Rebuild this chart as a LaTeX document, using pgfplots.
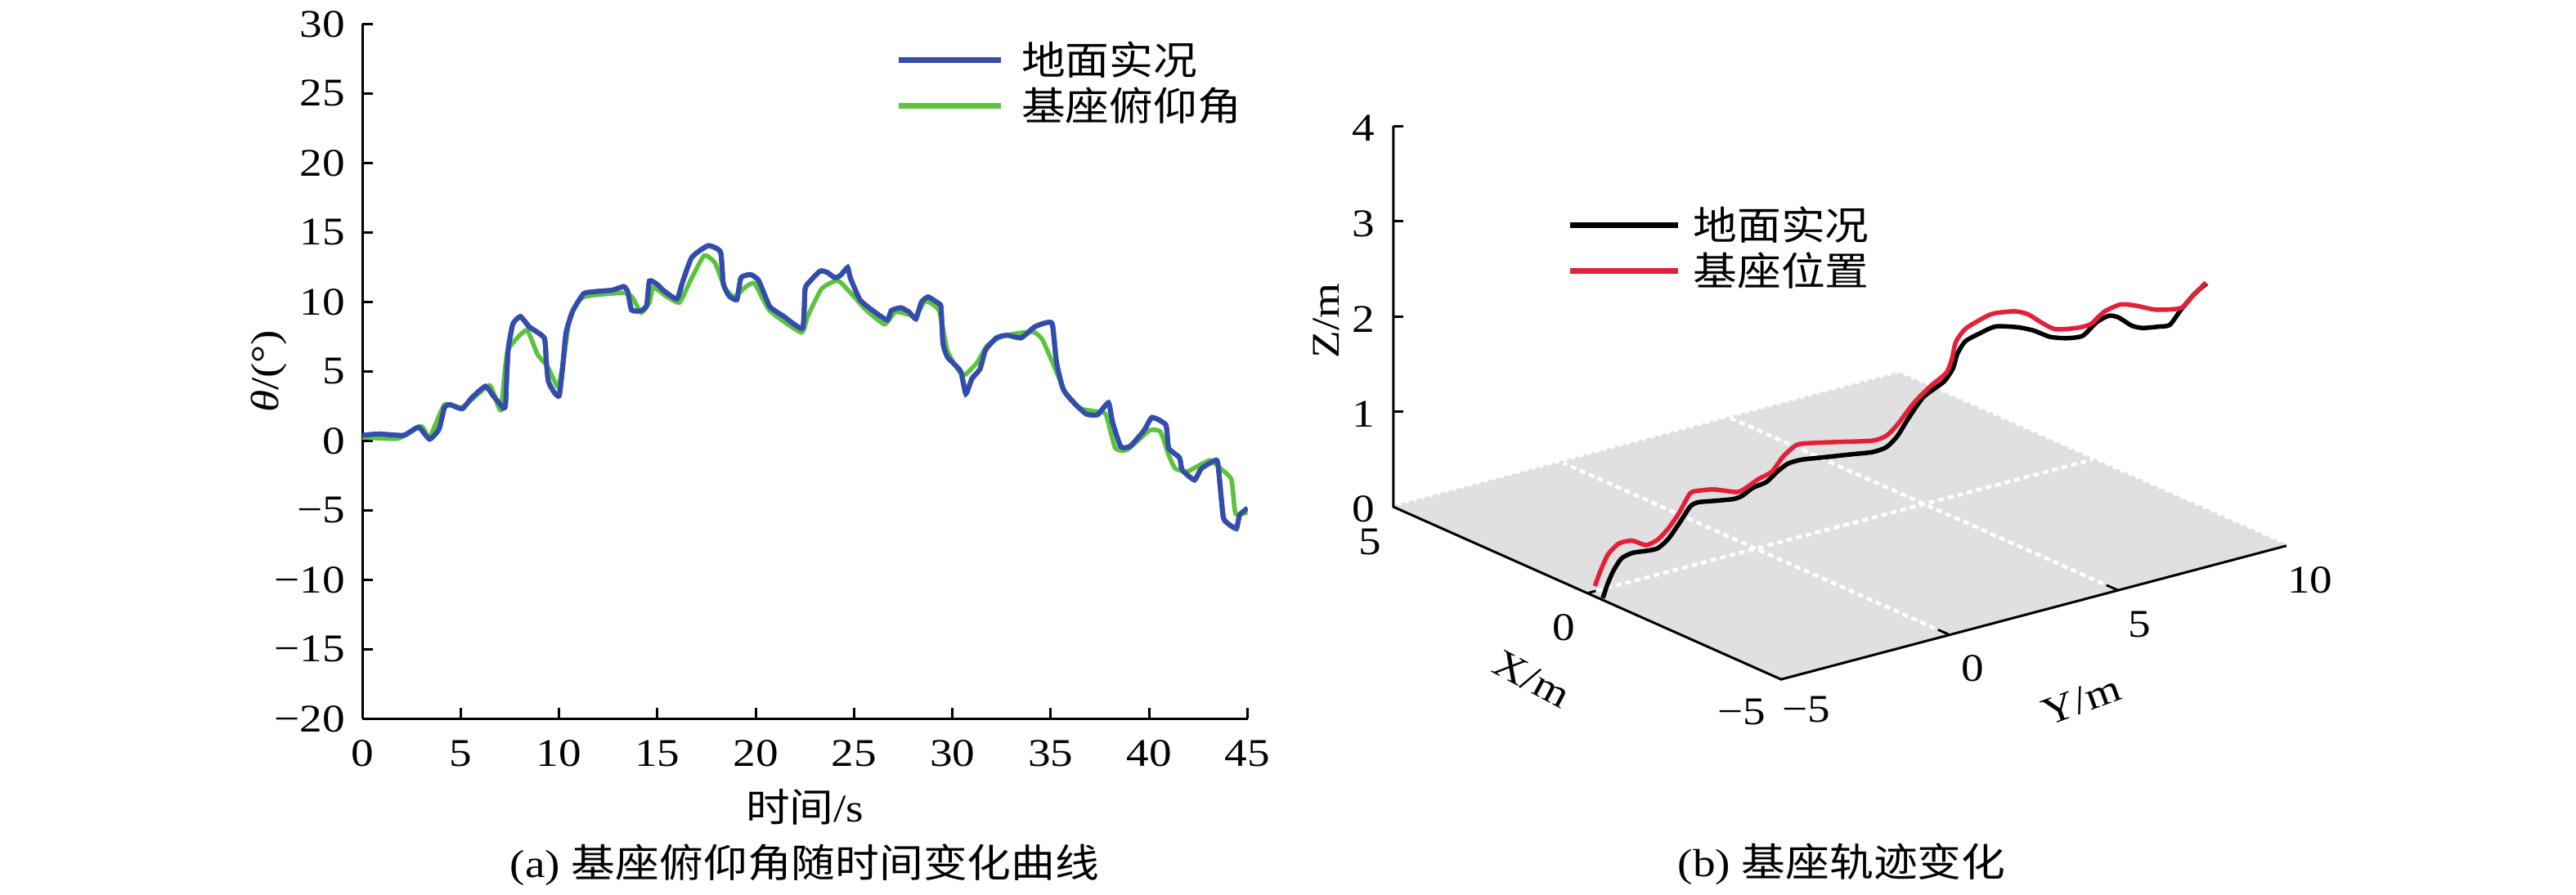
\documentclass[border=0pt]{standalone}
\usepackage{pgfplots}
\usepackage{pgfplotstable}
\pgfplotsset{compat=1.18}
\usepackage{fontspec}
\setmainfont{Liberation Serif}[FakeStretch=1.15]
\newfontfamily\cjk{Noto Sans CJK SC}[FakeStretch=1.12]
\newcommand\fs{\fontsize{9.6}{11.5}\selectfont}
\definecolor{cblue}{RGB}{52,76,172}
\definecolor{cgreen}{RGB}{92,196,60}
\definecolor{cred}{RGB}{228,32,56}
\definecolor{floorgray}{RGB}{224,224,224}

\pgfplotstableread{
t v
0.0 0.39
0.85 0.49
2.1 0.39
2.86 0.98
3.42 0.12
3.9 0.84
4.18 2.41
4.46 2.6
5.08 2.31
5.57 3.1
6.26 3.92
6.68 3.2
7.17 2.35
7.28 2.6
7.34 4.6
7.42 6.6
7.65 8.39
8.04 8.94
8.49 8.2
9.25 7.41
9.35 5.8
9.46 4.27
9.75 3.5
10.01 3.25
10.2 5.5
10.36 7.8
10.71 9.37
11.26 10.59
11.96 10.75
12.72 10.84
13.28 11.1
13.49 10.75
13.69 9.41
14.18 9.37
14.46 9.76
14.6 11.5
15.01 11.24
15.29 10.84
15.99 10.2
16.26 11.33
16.75 13.2
17.58 14.04
18.21 13.59
18.35 11.33
18.63 10.45
19.04 10.16
19.25 11.73
19.74 11.96
20.15 11.53
20.71 9.67
21.4 8.98
22.38 8.1
22.51 10.94
22.79 11.53
23.28 12.22
23.63 12.12
24.04 11.73
24.32 11.92
24.67 12.47
24.81 11.73
25.29 10.16
25.85 9.47
26.68 8.69
26.89 9.37
27.38 9.57
27.79 9.27
28.14 8.78
28.42 9.96
28.76 10.35
29.32 9.86
29.42 9.6
29.52 7.0
29.74 6.04
30.01 5.64
30.43 4.96
30.68 3.39
30.99 4.47
31.4 5.16
31.68 6.53
32.24 7.41
32.79 7.6
33.49 7.41
34.18 8.2
34.74 8.49
35.08 8.39
35.29 5.64
35.64 3.68
36.26 2.61
36.82 1.92
37.38 1.88
37.93 2.74
38.14 1.33
38.56 -0.43
39.04 -0.39
39.74 0.74
40.15 1.68
40.85 1.14
40.99 -0.53
41.54 -1.21
41.68 -2.1
42.3 -2.82
42.65 -2.0
43.29 -1.45
43.49 -1.6
43.76 -5.43
43.97 -5.92
44.43 -6.32
44.6 -5.33
45.0 -4.85
}\tblue

\pgfplotstableread{
t v
0.0 0.25
1.82 0.16
3.0 1.04
3.42 0.25
4.18 2.6
5.08 2.41
6.47 3.98
7.03 2.22
7.38 6.43
8.35 7.96
8.9 6.24
9.46 5.25
9.94 3.88
10.22 5.65
10.57 8.98
11.26 10.35
13.35 10.65
13.76 10.25
14.18 9.22
14.6 9.96
14.8 11.04
15.5 10.35
16.13 9.96
16.68 11.53
17.38 13.33
17.93 12.8
18.42 11.04
18.9 10.35
19.46 11.04
19.94 11.33
20.71 9.37
22.31 7.8
22.65 8.98
23.35 10.94
24.18 11.53
25.01 10.35
25.57 9.47
26.54 8.39
27.1 9.27
27.79 9.08
28.14 8.98
28.63 10.06
29.32 9.37
29.74 6.5
30.29 5.1
30.64 4.76
31.26 5.64
31.75 6.82
32.51 7.51
33.63 7.8
34.18 7.8
34.6 7.21
35.43 4.47
35.85 3.19
36.54 2.31
37.24 2.12
37.79 1.92
38.28 -0.53
38.9 -0.63
40.01 0.74
40.57 0.65
40.99 -1.02
41.33 -2.0
41.96 -2.2
43.07 -1.41
43.63 -2.0
44.18 -2.78
44.39 -5.24
45.0 -5.14
}\tgreen

\pgfplotstableread{
x y z
-0.40 -5.00 0.02
-0.42 -4.87 0.17
-0.45 -4.73 0.30
-0.48 -4.53 0.41
-0.53 -4.26 0.45
-0.59 -3.92 0.45
-0.64 -3.65 0.46
-0.68 -3.38 0.54
-0.73 -3.11 0.69
-0.78 -2.84 0.85
-0.81 -2.64 0.88
-0.88 -2.24 0.87
-0.96 -1.77 0.86
-1.00 -1.56 0.88
-1.05 -1.29 0.95
-1.11 -0.96 0.99
-1.15 -0.69 1.08
-1.20 -0.42 1.15
-1.26 -0.08 1.17
-1.35 0.46 1.16
-1.47 1.13 1.15
-1.56 1.67 1.14
-1.62 2.01 1.17
-1.67 2.28 1.27
-1.72 2.55 1.44
-1.78 2.93 1.64
-1.87 3.43 1.77
-1.91 3.66 1.90
-1.93 3.76 2.04
-1.96 3.96 2.16
-2.02 4.30 2.22
-2.09 4.71 2.27
-2.19 5.25 2.23
-2.26 5.65 2.17
-2.33 6.05 2.08
-2.40 6.46 2.04
-2.47 6.86 2.04
-2.53 7.20 2.16
-2.58 7.50 2.21
-2.62 7.74 2.18
-2.68 8.08 2.07
-2.73 8.35 2.03
-2.80 8.75 2.02
-2.84 9.02 2.02
-2.89 9.29 2.16
-2.95 9.63 2.31
-3.00 9.93 2.40
}\tblack

\pgfplotstableread{
x y z
-0.37 -5.20 0.16
-0.39 -5.07 0.30
-0.42 -4.87 0.47
-0.47 -4.60 0.57
-0.52 -4.29 0.58
-0.55 -4.13 0.55
-0.59 -3.92 0.51
-0.64 -3.65 0.55
-0.68 -3.38 0.65
-0.73 -3.11 0.80
-0.78 -2.84 0.99
-0.82 -2.57 1.00
-0.88 -2.24 0.99
-0.98 -1.70 0.93
-1.01 -1.50 0.95
-1.07 -1.16 1.03
-1.13 -0.82 1.09
-1.18 -0.55 1.23
-1.23 -0.21 1.33
-1.29 0.12 1.33
-1.41 0.80 1.30
-1.56 1.67 1.26
-1.62 2.01 1.29
-1.67 2.28 1.39
-1.74 2.68 1.59
-1.81 3.09 1.74
-1.88 3.49 1.86
-1.90 3.63 1.99
-1.92 3.73 2.17
-1.96 3.96 2.29
-2.02 4.30 2.36
-2.08 4.64 2.41
-2.17 5.18 2.40
-2.23 5.51 2.35
-2.29 5.85 2.24
-2.35 6.19 2.15
-2.44 6.73 2.13
-2.50 7.07 2.15
-2.56 7.40 2.26
-2.63 7.81 2.31
-2.70 8.21 2.27
-2.78 8.68 2.20
-2.89 9.29 2.18
-2.94 9.56 2.28
-3.00 9.90 2.41
}\tred

\begin{document}
\fs
\begin{tikzpicture}
\path[use as bounding box] (0,0) rectangle (630pt,219pt);
% ---------------- left plot ----------------
\begin{axis}[
  at={(88.6pt,43.14pt)}, anchor=south west,
  scale only axis, width=216.5pt, height=170pt,
  xmin=0, xmax=45, ymin=-20, ymax=30,
  axis x line*=bottom, axis y line*=left,
  axis line style={line width=0.6pt, black},
  xtick={0,5,...,45}, ytick={-20,-15,...,30},
  xticklabels={0,5,10,15,20,25,30,35,40,45},
  yticklabels={−20,−15,−10,−5,0,5,10,15,20,25,30},
  tick align=inside, major tick length=2.6pt,
  tick style={line width=0.6pt, black},
  ticklabel style={font=\fs},
  xticklabel style={yshift=-1.9pt},
  yticklabel style={xshift=-0.8pt},
  xlabel={{\cjk 时间}/s}, ylabel={{\itshape θ}/(°)},
  label style={font=\fs},
  xlabel style={at={(axis description cs:0.5,-0.1276)}, anchor=center},
  ylabel style={at={(axis description cs:-0.1053,0.5)}, anchor=center},
  legend style={at={(rel axis cs:0.6014,1)}, anchor=north west, yshift=-3.94pt,
    draw=none, fill=none, inner sep=0pt, font=\fs, column sep=4.4pt,
    nodes={inner sep=0pt, text height=8.4pt, text depth=2.8pt},
    cells={anchor=base west}},
  legend image code/.code={\draw[#1, line width=1.4pt] (0pt,3.6pt) -- (25pt,3.6pt);},
]
\addplot[cblue, line width=1.2pt, smooth, tension=0.3] table[x=t,y=v]{\tblue};
\addlegendentry{\cjk 地面实况}
\addplot[cgreen, line width=1.1pt, smooth, tension=0.3] table[x=t,y=v]{\tgreen};
\addlegendentry{\cjk 基座俯仰角}
\addplot[cblue, line width=1.2pt, smooth, tension=0.3, forget plot] table[x=t,y=v]{\tblue};
\end{axis}
\node at (196.8pt,7.4pt) {(a) {\cjk 基座俯仰角随时间变化曲线}};
% ---------------- right 3D plot ----------------
\begin{axis}[
  at={(429.4pt,84.76pt)}, anchor=origin,
  x={(-9.48pt,4.22pt)}, y={(8.24pt,2.18pt)}, z={(0pt,23.3pt)},
  xmin=-5, xmax=5, ymin=-5, ymax=10, zmin=0, zmax=4,
  hide axis, clip=false,
  legend style={at={(axis cs:5,-5,3)}, anchor=north west, xshift=42.2pt, yshift=4.0pt,
    draw=none, fill=none, inner sep=0pt, font=\fs, column sep=3.1pt,
    nodes={inner sep=0pt, text height=8.4pt, text depth=2.8pt},
    cells={anchor=base west}},
  legend image code/.code={\draw[#1, line width=1.4pt] (0pt,3.6pt) -- (26.4pt,3.6pt);},
]
\addplot3[fill=floorgray, draw=none, forget plot] coordinates {(5,-5,0) (-5,-5,0) (-5,10,0) (5,10,0)};
\addplot3[white, line width=0.9pt, dash pattern=on 1.4pt off 1pt, forget plot] coordinates {(5,0,0) (-5,0,0)};
\addplot3[white, line width=0.9pt, dash pattern=on 1.4pt off 1pt, forget plot] coordinates {(5,5,0) (-5,5,0)};
\addplot3[white, line width=0.9pt, dash pattern=on 1.4pt off 1pt, forget plot] coordinates {(0,-5,0) (0,10,0)};
\addplot3[white!75!gray, line width=0.8pt, dash pattern=on 1pt off 1pt, forget plot] coordinates {(5,-5,0) (5,10,0) (-5,10,0)};
\addplot3[black, line width=0.6pt, forget plot] coordinates {(5,-5,4) (5,-5,0) (-5,-5,0) (-5,10,0)};
\pgfplotsinvokeforeach{1,2,3,4}{\draw[black, line width=0.6pt] (axis cs:5,-5,#1) -- ++(2.4pt,0pt);}
\draw[black, line width=0.6pt] (axis cs:0,-5,0) -- (axis cs:0,-4.75,0);
\draw[black, line width=0.6pt] (axis cs:-5,0,0) -- (axis cs:-4.7,0,0);
\draw[black, line width=0.6pt] (axis cs:-5,5,0) -- (axis cs:-4.7,5,0);
\addplot3[black, line width=1.1pt, smooth, tension=0.4] table[x=x,y=y,z=z]{\tblack};
\addlegendentry{\cjk 地面实况}
\addplot3[cred, line width=1.1pt, smooth, tension=0.4] table[x=x,y=y,z=z]{\tred};
\addlegendentry{\cjk 基座位置}
% tick labels
\pgfplotsinvokeforeach{0,1,2,3,4}{\node[anchor=east, inner sep=0pt, xshift=-4.4pt, yshift=-0.6pt] at (axis cs:5,-5,#1) {#1};}
\node[anchor=east, inner sep=0pt, xshift=-2.8pt, yshift=-8.6pt] at (axis cs:5,-5,0) {5};
\node[anchor=east, inner sep=0pt, xshift=-2.8pt, yshift=-8.4pt] at (axis cs:0,-5,0) {0};
\node[anchor=east, inner sep=0pt, xshift=-3.6pt, yshift=-8.0pt] at (axis cs:-5,-5,0) {−5};
\node[anchor=west, inner sep=0pt, xshift=0pt, yshift=-7.4pt] at (axis cs:-5,-5,0) {−5};
\node[anchor=west, inner sep=0pt, xshift=2.6pt, yshift=-8.2pt] at (axis cs:-5,0,0) {0};
\node[anchor=west, inner sep=0pt, xshift=2.2pt, yshift=-8.4pt] at (axis cs:-5,5,0) {5};
\node[anchor=west, inner sep=0pt, xshift=0pt, yshift=-8.4pt] at (axis cs:-5,10,0) {10};
% axis labels
\node[inner sep=0pt, rotate=90, yshift=16.4pt] at (axis cs:5,-5,1.957) {Z/m};
\node[inner sep=0pt, xshift=-13.6pt, yshift=-21pt, rotate=-28] at (axis cs:0,-5,0) {X/m};
\node[inner sep=0pt, xshift=-9pt, yshift=-27pt, rotate=20] at (axis cs:-5,5,0) {Y/m};
\end{axis}
\node at (450.4pt,7.6pt) {(b) {\cjk 基座轨迹变化}};
\end{tikzpicture}
\end{document}
